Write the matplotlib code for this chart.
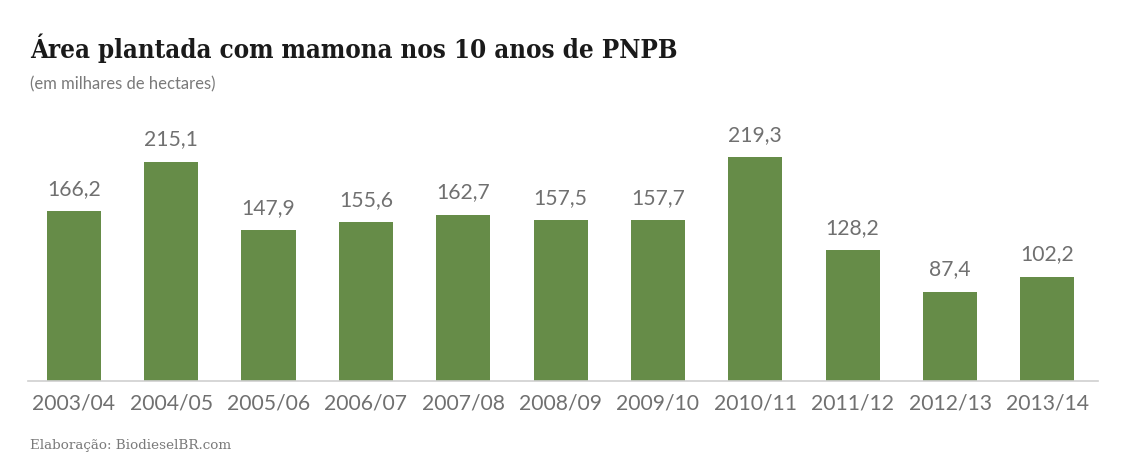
import matplotlib
matplotlib.use('Agg')
import matplotlib.pyplot as plt

# Data
safras = ['2003/04', '2004/05', '2005/06', '2006/07', '2007/08', '2008/09',
          '2009/10', '2010/11', '2011/12', '2012/13', '2013/14']
area = [166.2, 215.1, 147.9, 155.6, 162.7, 157.5, 157.7, 219.3, 128.2, 87.4, 102.2]

W, H = 1122, 471
fig = plt.figure(figsize=(W / 100, H / 100), dpi=100)

# Axes placed in pixel terms
left, right, base, top = 28, 1098, 381, 126
ax = fig.add_axes([left / W, (H - base) / H, (right - left) / W, (base - top) / H])

x = range(len(safras))
ax.bar(x, area, width=0.555, color='#668c48')
ax.set_xlim(-0.47, 10.52)
ax.set_ylim(0, 250)

for i, v in zip(x, area):
    ax.annotate(f'{v:.1f}'.replace('.', ','), (i, v), xytext=(0, 9),
                textcoords='offset points', ha='center', va='bottom',
                fontsize=15.2, color='#707070', family='Lato')

ax.set_xticks(list(x))
ax.set_xticklabels(safras, fontsize=15.2, color='#707070', family='Lato')
ax.tick_params(axis='x', length=0, pad=9)
ax.set_yticks([])
for s in ['top', 'left', 'right']:
    ax.spines[s].set_visible(False)
ax.spines['bottom'].set_color('#cfcfcf')
ax.spines['bottom'].set_linewidth(1.2)

fig.text(30 / W, 1 - 48 / H, 'Área plantada com mamona nos 10 anos de PNPB',
         fontsize=18.5, fontweight='bold', family='DejaVu Serif', stretch='condensed',
         color='#1a1a1a', va='center')
fig.text(30 / W, 1 - 84 / H, '(em milhares de hectares)',
         fontsize=12, color='#7a7a7a', family='Lato', va='center')
fig.text(30 / W, 1 - 445 / H, 'Elaboração: BiodieselBR.com',
         fontsize=9.7, color='#7a7a7a', family='DejaVu Serif', va='center')

fig.savefig('out.png', dpi=100)
